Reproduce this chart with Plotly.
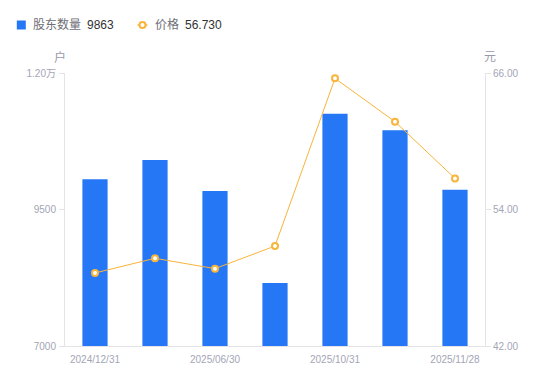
import plotly.graph_objects as go

categories = ["2024/12/31", "2025/03/31", "2025/06/30", "2025/09/30",
              "2025/10/31", "2025/11/10", "2025/11/28"]
tick_labels = ["2024/12/31", "", "2025/06/30", "", "2025/10/31", "", "2025/11/28"]
holders = [10053, 10407, 9839, 8154, 11255, 10951, 9863]
prices = [48.42, 49.71, 48.80, 50.79, 65.53, 61.72, 56.73]
left_ticks = [7000, 9500, 12000]
left_tick_text = ["7000", "9500", "1.20万"]
right_ticks = [42, 54, 66]
right_tick_text = ["42.00", "54.00", "66.00"]
series_names = ["股东数量", "价格"]

FONT = "Liberation Sans, Arial, Noto Sans CJK SC, sans-serif"
AXIS_COLOR = "#e3e3e8"
TICK_FONT_COLOR = "#a3a5b5"
BLUE = "#2577f5"
ORANGE = "#f9b43a"
W, H = 550, 381
ML, MR, MT, MB = 65, 65, 73, 35
PW, PH = W - ML - MR, H - MT - MB


def px(x):
    return (x - ML) / PW


def py(y):
    return (H - MB - y) / PH


fig = go.Figure()
fig.add_trace(go.Bar(
    x=categories, y=holders, name=series_names[0],
    marker=dict(color=BLUE, line=dict(width=0)),
    width=0.42, yaxis="y",
))
fig.add_trace(go.Scatter(
    x=categories, y=prices, name=series_names[1],
    mode="lines+markers",
    line=dict(color=ORANGE, width=1),
    marker=dict(symbol="circle", size=6, color="white", line=dict(color=ORANGE, width=2)),
    yaxis="y2",
))

tick_font = dict(size=10, color=TICK_FONT_COLOR, family=FONT)
legend_y = 25
annotations = [
    dict(text="户", x=px(59.5), y=py(57)),
    dict(text="元", x=px(490), y=py(57)),
]
for a in annotations:
    a.update(xref="paper", yref="paper", xanchor="center", yanchor="middle",
             showarrow=False, font=dict(size=12, color="#999aa8", family=FONT))

legend_items = [
    (31, series_names[0], 85, "%d" % holders[-1]),
    (153, series_names[1], 183, "%.3f" % prices[-1]),
]
for xn, name, xv, val in legend_items:
    annotations.append(dict(text=name, x=px(xn), y=py(legend_y), xref="paper", yref="paper",
                            xanchor="left", yanchor="middle", showarrow=False,
                            font=dict(size=12, color="#6e6e76", family=FONT)))
    annotations.append(dict(text=val, x=px(xv), y=py(legend_y), xref="paper", yref="paper",
                            xanchor="left", yanchor="middle", showarrow=False,
                            font=dict(size=12, color="#333333", family=FONT)))

shapes = [
    dict(type="rect", xref="paper", yref="paper",
         x0=px(16.8), x1=px(25.8), y0=py(legend_y - 4.5), y1=py(legend_y + 4.5),
         fillcolor=BLUE, line=dict(width=0)),
    dict(type="line", xref="paper", yref="paper",
         x0=px(137.5), x1=px(147.5), y0=py(legend_y), y1=py(legend_y),
         line=dict(color=ORANGE, width=1.5)),
    dict(type="circle", xref="paper", yref="paper",
         x0=px(139.5), x1=px(145.5), y0=py(legend_y - 3), y1=py(legend_y + 3),
         fillcolor="white", line=dict(color=ORANGE, width=2)),
]

fig.update_layout(
    width=W, height=H,
    margin=dict(l=ML, r=MR, t=MT, b=MB, autoexpand=False),
    paper_bgcolor="white", plot_bgcolor="white",
    font=dict(family=FONT, size=12, color="#666"),
    showlegend=False,
    xaxis=dict(
        type="category", tickmode="array", tickvals=categories, ticktext=tick_labels,
        showline=True, linecolor=AXIS_COLOR, linewidth=1,
        ticks="", showgrid=False, zeroline=False, tickfont=tick_font,
        ticklabelstandoff=4,
    ),
    yaxis=dict(
        range=[7000, 12000], tickmode="array", tickvals=left_ticks, ticktext=left_tick_text,
        showline=True, linecolor=AXIS_COLOR, linewidth=1,
        ticks="outside", ticklen=5, tickcolor=AXIS_COLOR,
        showgrid=False, zeroline=False, tickfont=tick_font,
        ticklabelstandoff=1,
    ),
    yaxis2=dict(
        range=[42, 66], overlaying="y", side="right",
        tickmode="array", tickvals=right_ticks, ticktext=right_tick_text,
        showline=True, linecolor=AXIS_COLOR, linewidth=1,
        ticks="outside", ticklen=5, tickcolor=AXIS_COLOR,
        showgrid=False, zeroline=False, tickfont=tick_font,
    ),
    annotations=annotations,
    shapes=shapes,
)

fig.write_html("out.html", config={"displayModeBar": False},
               post_script="document.body.style.margin='0';")
